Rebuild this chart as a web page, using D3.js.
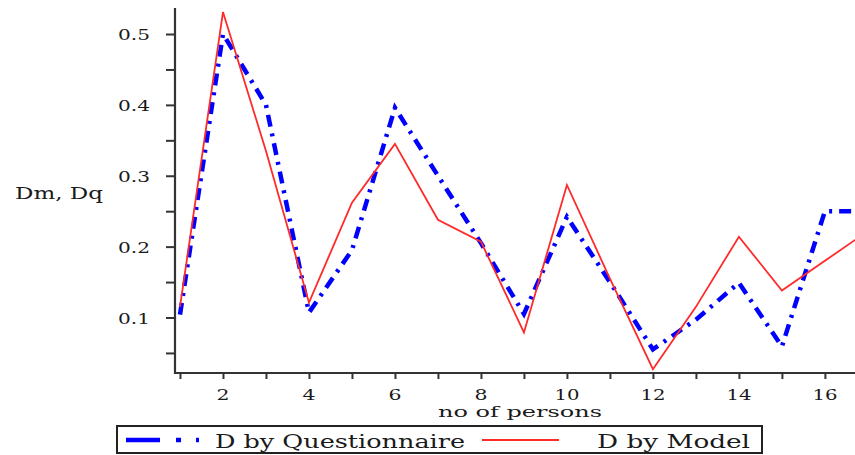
<!DOCTYPE html>
<html>
<head>
<meta charset="utf-8">
<script src="https://cdn.jsdelivr.net/npm/d3@7"></script>
<style>
  body { margin: 0; background: #fff; }
  text { font-family: "DejaVu Serif", serif; fill: #1a1a1a; }
</style>
</head>
<body>
<svg id="chart" width="855" height="455"></svg>
<script>
// no of persons
let persons = [1, 2, 3, 4, 5, 6, 7, 8, 9, 10, 11, 12, 13, 14, 15, 16, 17];
// D by Questionnaire
let dQuest = [0.104, 0.50, 0.40, 0.107, 0.195, 0.396, 0.30, 0.205, 0.105, 0.242, 0.15, 0.055, 0.097, 0.149, 0.059, 0.25, 0.25];
// D by Model
let dModel = [0.115, 0.531, 0.335, 0.121, 0.262, 0.345, 0.238, 0.207, 0.079, 0.287, 0.155, 0.027, 0.115, 0.214, 0.138, 0.18, 0.222];
let yTicks = [0.1, 0.2, 0.3, 0.4, 0.5];
let yMinor = [0.05, 0.15, 0.25, 0.35, 0.45];
let xTicks = [2, 4, 6, 8, 10, 12, 14, 16];
let xMinor = [1, 3, 5, 7, 9, 11, 13, 15];

let svg = d3.select('svg');
let x = d3.scaleLinear().domain([0.884, 16.70]).range([175, 855]);
let y = d3.scaleLinear().domain([0.0217, 0.5367]).range([373, 8]);

svg.append('defs').append('clipPath').attr('id', 'plotclip')
	.append('rect')
	.attr('x', 175).attr('y', 0).attr('width', 680).attr('height', 373);

// lines
let quest = persons.map((p, i) => [p, dQuest[i]]);
let model = persons.map((p, i) => [p, dModel[i]]);
let line = d3.line().x(d => x(d[0])).y(d => y(d[1]));

let plot = svg.append('g').attr('clip-path', 'url(#plotclip)');
plot.append('path')
	.attr('d', line(quest))
	.attr('fill', 'none')
	.attr('stroke', '#0000ff')
	.attr('stroke-width', 4.5)
	.attr('stroke-dasharray', '12,7,3,7');
plot.append('path')
	.attr('d', line(model))
	.attr('fill', 'none')
	.attr('stroke', '#ff2a2a')
	.attr('stroke-width', 1.8);

// y axis
let yAxis = svg.append('g').attr('transform', 'translate(175,0)');
yAxis.call(d3.axisLeft(y).tickValues(yTicks.concat(yMinor)).tickSize(9).tickFormat(''));
yAxis.select('.domain').remove();
yAxis.selectAll('line').attr('stroke', '#333').attr('stroke-width', 2);
yAxis.append('line').attr('x1', 0).attr('x2', 0).attr('y1', 8).attr('y2', 374)
	.attr('stroke', '#333').attr('stroke-width', 2.2);
svg.append('g').selectAll('text').data(yTicks).enter().append('text')
	.attr('x', 150).attr('y', d => y(d) + 6)
	.attr('text-anchor', 'end')
	.attr('font-size', 15)
	.attr('textLength', 32).attr('lengthAdjust', 'spacingAndGlyphs')
	.text(d => d.toFixed(1));

// x axis
let xAxis = svg.append('g').attr('transform', 'translate(0,373)');
xAxis.call(d3.axisBottom(x).tickValues(xTicks.concat(xMinor)).tickSize(6).tickFormat(''));
xAxis.select('.domain').remove();
xAxis.selectAll('line').attr('stroke', '#333').attr('stroke-width', 2);
xAxis.append('line').attr('x1', 174).attr('x2', 855).attr('y1', 0).attr('y2', 0)
	.attr('stroke', '#333').attr('stroke-width', 2.2);
svg.append('g').selectAll('text').data(xTicks).enter().append('text')
	.attr('x', d => x(d)).attr('y', 400)
	.attr('text-anchor', 'middle')
	.attr('font-size', 15)
	.attr('textLength', d => d < 10 ? 13 : 25).attr('lengthAdjust', 'spacingAndGlyphs')
	.text(d => d);

// axis titles
svg.append('text').attr('x', 438).attr('y', 417)
	.attr('font-size', 15)
	.attr('textLength', 164).attr('lengthAdjust', 'spacingAndGlyphs')
	.text('no of persons');
svg.append('text').attr('x', 15).attr('y', 199)
	.attr('font-size', 17)
	.attr('textLength', 88).attr('lengthAdjust', 'spacingAndGlyphs')
	.text('Dm, Dq');

// legend
let legend = svg.append('g');
legend.append('rect').attr('x', 117).attr('y', 426).attr('width', 645).attr('height', 27)
	.attr('fill', 'none').attr('stroke', '#222').attr('stroke-width', 2);
legend.append('line').attr('x1', 126).attr('x2', 204).attr('y1', 440).attr('y2', 440)
	.attr('stroke', '#0000ff').attr('stroke-width', 4.5)
	.attr('stroke-dasharray', '34,16,5,15,3,40');
legend.append('text').attr('x', 215).attr('y', 448)
	.attr('font-size', 19)
	.attr('textLength', 250).attr('lengthAdjust', 'spacingAndGlyphs')
	.text('D by Questionnaire');
legend.append('line').attr('x1', 482).attr('x2', 559).attr('y1', 440).attr('y2', 440)
	.attr('stroke', '#ff2a2a').attr('stroke-width', 1.8);
legend.append('text').attr('x', 597).attr('y', 448)
	.attr('font-size', 19)
	.attr('textLength', 153).attr('lengthAdjust', 'spacingAndGlyphs')
	.text('D by Model');
</script>
</body>
</html>
